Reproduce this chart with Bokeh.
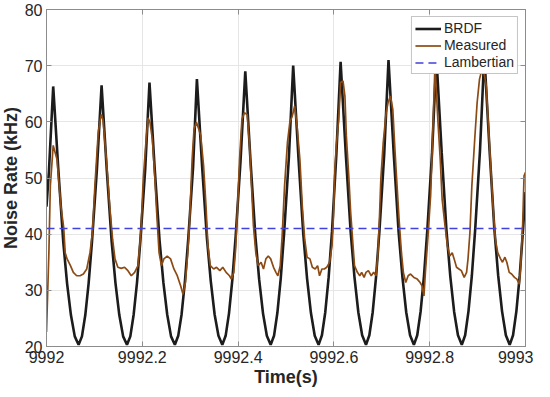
from bokeh.plotting import figure
from bokeh.models import (Range1d, FixedTicker, LinearAxis, Legend, LegendItem,
                          CustomLabelingPolicy)
from bokeh.embed import file_html
from bokeh.resources import INLINE

# ---------------- data ----------------
t0 = 9992.0

# BRDF model curve: time offset (s) from t0 and noise rate (kHz)
brdf_dt = [0.000, 0.005,
           0.014, 0.025, 0.035, 0.043, 0.051, 0.059, 0.067, 0.074, 0.081, 0.088, 0.095, 0.105,
           0.115, 0.126, 0.136, 0.144, 0.152, 0.160, 0.168, 0.175, 0.182, 0.189, 0.196, 0.206,
           0.215, 0.226, 0.236, 0.244, 0.252, 0.260, 0.268, 0.275, 0.282, 0.289, 0.296, 0.306,
           0.314, 0.325, 0.335, 0.343, 0.351, 0.359, 0.367, 0.374, 0.381, 0.388, 0.395, 0.405,
           0.415, 0.426, 0.436, 0.444, 0.452, 0.460, 0.468, 0.475, 0.482, 0.489, 0.496, 0.506,
           0.515, 0.526, 0.536, 0.544, 0.552, 0.560, 0.568, 0.575, 0.582, 0.589, 0.596, 0.605,
           0.614, 0.625, 0.635, 0.643, 0.651, 0.659, 0.667, 0.674, 0.681, 0.688, 0.695, 0.705,
           0.714, 0.725, 0.735, 0.743, 0.751, 0.759, 0.767, 0.774, 0.781, 0.788, 0.795, 0.805,
           0.814, 0.825, 0.835, 0.843, 0.851, 0.859, 0.867, 0.874, 0.881, 0.888, 0.895, 0.905,
           0.914, 0.925, 0.935, 0.943, 0.951, 0.959, 0.967, 0.974, 0.981, 0.988, 0.995, 1.000]
brdf_v = [44.9, 51.1,
          66.3, 51.1, 38.6, 31.2, 25.6, 21.8, 20.3, 21.8, 25.6, 31.3, 38.7, 51.2,
          66.5, 51.2, 38.7, 31.3, 25.6, 21.8, 20.3, 21.8, 25.7, 31.4, 38.9, 51.5,
          67.0, 51.5, 38.9, 31.4, 25.7, 21.8, 20.3, 21.9, 25.7, 31.6, 39.2, 51.9,
          67.6, 51.9, 39.2, 31.6, 25.7, 21.9, 20.3, 21.9, 25.9, 31.9, 39.7, 52.9,
          69.0, 52.9, 39.7, 31.9, 25.9, 21.9, 20.3, 21.9, 26.0, 32.1, 40.1, 53.6,
          70.0, 53.6, 40.1, 32.1, 26.0, 21.9, 20.3, 22.0, 26.1, 32.3, 40.4, 54.0,
          70.7, 54.0, 40.4, 32.3, 26.1, 22.0, 20.3, 22.0, 26.1, 32.4, 40.5, 54.2,
          71.0, 54.2, 40.5, 32.4, 26.1, 22.0, 20.3, 22.0, 26.2, 32.5, 40.7, 54.6,
          71.5, 54.6, 40.7, 32.5, 26.2, 22.0, 20.3, 22.0, 26.3, 32.6, 40.9, 54.9,
          72.0, 54.9, 40.9, 32.6, 26.3, 22.0, 20.3, 22.0, 26.3, 32.7, 41.0, 47.5]

# Measured noise rate
meas_dt = [0.000, 0.005, 0.008, 0.014, 0.022, 0.030, 0.036, 0.039, 0.043, 0.050,
           0.056, 0.063, 0.070, 0.077, 0.084, 0.091, 0.096, 0.101, 0.108, 0.114,
           0.118, 0.125, 0.132, 0.138, 0.143, 0.149, 0.156, 0.163, 0.170, 0.177,
           0.184, 0.191, 0.197, 0.202, 0.207, 0.212, 0.216, 0.221, 0.226, 0.230,
           0.235, 0.240, 0.245, 0.252, 0.259, 0.266, 0.273, 0.280, 0.285, 0.290,
           0.295, 0.299, 0.304, 0.308, 0.313, 0.318, 0.322, 0.328, 0.333, 0.337,
           0.342, 0.349, 0.355, 0.362, 0.368, 0.375, 0.382, 0.386, 0.391, 0.395,
           0.399, 0.403, 0.408, 0.413, 0.419, 0.424, 0.428, 0.432, 0.437, 0.442,
           0.448, 0.453, 0.458, 0.463, 0.468, 0.474, 0.479, 0.483, 0.488, 0.492,
           0.497, 0.503, 0.508, 0.513, 0.518, 0.523, 0.529, 0.534, 0.539, 0.544,
           0.550, 0.555, 0.561, 0.566, 0.570, 0.575, 0.580, 0.585, 0.591, 0.596,
           0.599, 0.602, 0.605, 0.610, 0.614, 0.619, 0.623, 0.626, 0.631, 0.635,
           0.640, 0.643, 0.649, 0.654, 0.658, 0.663, 0.667, 0.672, 0.678, 0.683,
           0.688, 0.692, 0.695, 0.698, 0.703, 0.709, 0.713, 0.718, 0.723, 0.727,
           0.731, 0.736, 0.741, 0.745, 0.750, 0.755, 0.760, 0.767, 0.774, 0.780,
           0.784, 0.788, 0.791, 0.796, 0.802, 0.806, 0.811, 0.817, 0.822, 0.826,
           0.832, 0.837, 0.842, 0.847, 0.851, 0.856, 0.861, 0.866, 0.872, 0.877,
           0.880, 0.884, 0.888, 0.894, 0.899, 0.904, 0.911, 0.918, 0.923, 0.928,
           0.933, 0.937, 0.942, 0.948, 0.952, 0.957, 0.961, 0.966, 0.971, 0.977,
           0.982, 0.987, 0.990, 0.994, 0.997, 1.000]
meas_v = [22.6, 36.8, 48.6, 55.8, 53.3, 45.0, 41.1, 36.7, 35.6, 34.4,
          33.2, 32.6, 32.6, 32.9, 33.8, 36.8, 40.4, 48.6, 58.1, 61.3,
          60.4, 53.3, 45.0, 39.1, 35.6, 34.1, 33.9, 34.1, 33.5, 32.6,
          33.2, 34.4, 40.3, 49.8, 55.7, 60.7, 59.9, 56.9, 50.4, 43.9,
          36.7, 34.4, 35.6, 36.1, 35.6, 33.8, 32.6, 30.8, 29.3, 31.4,
          36.7, 42.7, 53.3, 58.7, 59.9, 58.7, 57.5, 52.1, 45.0, 37.9,
          34.4, 33.8, 34.1, 33.5, 34.1, 33.2, 32.6, 32.0, 33.2, 37.5,
          45.0, 53.3, 60.4, 61.6, 61.3, 55.7, 48.6, 41.5, 36.7, 34.4,
          35.0, 33.8, 35.6, 36.1, 35.6, 34.1, 33.2, 32.6, 34.4, 39.7,
          48.6, 56.3, 59.9, 61.0, 62.8, 59.3, 53.3, 45.0, 39.1, 35.9,
          35.6, 34.1, 33.8, 34.4, 32.6, 33.8, 33.8, 34.1, 35.0, 37.9,
          43.0, 51.6, 55.7, 60.4, 67.0, 67.3, 64.6, 57.5, 50.4, 43.9,
          37.9, 34.4, 33.2, 32.6, 33.2, 32.3, 33.2, 33.5, 32.6, 33.2,
          32.6, 36.7, 42.7, 49.8, 56.3, 61.6, 63.4, 64.6, 62.2, 55.7,
          49.8, 42.7, 36.7, 33.2, 31.4, 32.6, 32.9, 32.3, 32.0, 31.4,
          30.8, 29.0, 33.2, 39.1, 47.0, 57.0, 70.0, 60.4, 53.3, 46.2,
          41.5, 37.9, 36.1, 36.7, 35.6, 34.1, 33.8, 33.5, 32.3, 33.2,
          35.6, 40.3, 48.6, 56.9, 63.4, 67.6, 70.0, 66.4, 58.7, 51.0,
          43.9, 39.1, 36.7, 35.6, 35.0, 35.9, 35.0, 33.2, 32.9, 32.3,
          32.0, 31.1, 34.4, 41.5, 50.4, 51.0]

# Lambertian model (constant level)
lamb_dt = [0.0, 1.0]
lamb_v = [41.0, 41.0]

x_ticks = [9992.0, 9992.2, 9992.4, 9992.6, 9992.8, 9993.0]
x_tick_labels = ["9992", "9992.2", "9992.4", "9992.6", "9992.8", "9993"]
y_ticks = [20, 30, 40, 50, 60, 70, 80]
y_tick_labels = ["20", "30", "40", "50", "60", "70", "80"]

# ---------------- figure ----------------
FONT = "Liberation Sans"
TXT = "#262626"
AXC = "#8c8c8c"

p = figure(width=536, height=392,
           x_range=Range1d(9992, 9993), y_range=Range1d(20, 80),
           output_backend="svg", toolbar_location=None,
           min_border_left=44, min_border_right=8,
           min_border_top=12, min_border_bottom=43,
           x_axis_label="Time(s)", y_axis_label="Noise Rate (kHz)")
p.styles = {"margin-left": "-3px", "margin-top": "-3px", "margin-bottom": "-3px"}
p.background_fill_color = "white"
p.border_fill_color = "white"
p.outline_line_color = AXC
p.outline_line_width = 1

p.xaxis.ticker = FixedTicker(ticks=x_ticks)
p.yaxis.ticker = FixedTicker(ticks=y_ticks)
p.xaxis.major_label_overrides = dict(zip(x_ticks, x_tick_labels))
p.yaxis.major_label_overrides = dict(zip(y_ticks, y_tick_labels))

for ax in (p.xaxis[0], p.yaxis[0]):
    ax.axis_line_color = AXC
    ax.major_tick_line_color = AXC
    ax.major_tick_in = 5
    ax.major_tick_out = 0
    ax.minor_tick_line_color = None
    ax.major_label_text_font = FONT
    ax.major_label_text_font_size = "16px"
    ax.major_label_text_color = TXT
    ax.axis_label_text_font = FONT
    ax.axis_label_text_font_size = "18px"
    ax.axis_label_text_font_style = "bold"
    ax.axis_label_text_color = TXT
p.xaxis.major_label_standoff = 4
p.xaxis.axis_label_standoff = 1
p.yaxis.major_label_standoff = 4
p.yaxis.axis_label_standoff = 1

# box-style ticks on top and right (labels suppressed)
no_labels = CustomLabelingPolicy(code="""
    for (const i of indices) { indices.unset(i) }
    return indices
""")
for side in ("above", "right"):
    ax = LinearAxis(ticker=FixedTicker(ticks=x_ticks if side == "above" else y_ticks))
    ax.axis_line_color = AXC
    ax.major_tick_line_color = AXC
    ax.major_tick_in = 5
    ax.major_tick_out = 0
    ax.minor_tick_line_color = None
    ax.major_label_policy = no_labels
    ax.major_label_text_font_size = "1px"
    ax.major_label_standoff = 0
    p.add_layout(ax, side)

p.xgrid.ticker = FixedTicker(ticks=x_ticks)
p.ygrid.ticker = FixedTicker(ticks=y_ticks)
p.grid.grid_line_color = "#e6e6e6"
p.grid.grid_line_width = 1

t_brdf = [t0 + d for d in brdf_dt]
t_meas = [t0 + d for d in meas_dt]
t_lamb = [t0 + d for d in lamb_dt]

r_brdf = p.line(t_brdf, brdf_v, line_color="#1c1c1c", line_width=2.6)
r_meas = p.line(t_meas, meas_v, line_color="#8c4b14", line_width=1.7)
r_lamb = p.line(t_lamb, lamb_v, line_color="#4141dc", line_width=1.6, line_dash="8 5")

legend = Legend(items=[LegendItem(label="BRDF", renderers=[r_brdf]),
                       LegendItem(label="Measured", renderers=[r_meas]),
                       LegendItem(label="Lambertian", renderers=[r_lamb])],
                location="top_right")
legend.margin = 7
legend.padding = 3
legend.spacing = 1
legend.label_height = 15
legend.glyph_height = 15
legend.glyph_width = 26
legend.label_standoff = 3
legend.label_text_font = FONT
legend.label_text_font_size = "14px"
legend.label_text_color = TXT
legend.border_line_color = AXC
legend.border_line_width = 1
legend.background_fill_color = "white"
legend.background_fill_alpha = 1.0
p.add_layout(legend)

open("out.html", "w").write(file_html(p, INLINE))
